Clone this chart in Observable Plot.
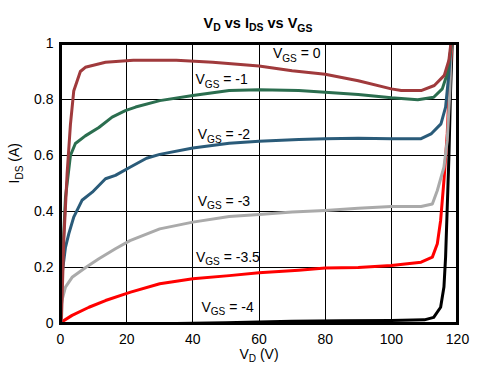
<!DOCTYPE html>
<html>
<head>
<meta charset="utf-8">
<script src="https://cdn.jsdelivr.net/npm/d3@7"></script>
<script src="https://cdn.jsdelivr.net/npm/@observablehq/plot@0.6"></script>
<style>
  html, body { margin: 0; padding: 0; background: #fff; }
  svg { display: block; }
</style>
</head>
<body>
<div id="chart"></div>
<script>
// ---- data ----
const vgsLabels = ["V_{GS} = 0", "V_{GS} = -1", "V_{GS} = -2", "V_{GS} = -3", "V_{GS} = -3.5", "V_{GS} = -4"];
const colors = ["#a03a3c", "#2b6e4f", "#2a5b79", "#aaaaaa", "#ff0000", "#000000"];

const vgs0 = [[0,0],[0.3,0.02],[1,0.30],[2,0.535],[3,0.71],[4,0.83],[6,0.90],[7.5,0.915],[13.6,0.933],[22,0.94],[35,0.94],[46,0.933],[60,0.92],[70,0.903],[80,0.89],[90,0.867],[100,0.838],[103,0.832],[109,0.832],[113,0.85],[116,0.886],[117.4,0.94],[118,1.0]];
const vgs1 = [[0,0],[0.5,0.2],[1.5,0.45],[3,0.6],[4.5,0.643],[7.5,0.67],[11.6,0.70],[15.6,0.737],[19.6,0.76],[22.7,0.773],[30,0.796],[40,0.814],[51,0.832],[60,0.835],[72,0.832],[80,0.826],[90,0.818],[100,0.806],[108,0.799],[112.8,0.808],[115.4,0.838],[116.9,0.892],[118,0.98],[118.2,1]];
const vgs2 = [[0,0],[0.3,0.16],[1.5,0.272],[2.5,0.32],[4,0.38],[6.5,0.44],[9.6,0.469],[13.6,0.517],[16.6,0.529],[21,0.558],[26,0.59],[30,0.604],[40,0.627],[51,0.644],[60,0.651],[72,0.657],[80,0.66],[90,0.662],[100,0.66],[109,0.66],[112,0.677],[115,0.713],[116.4,0.773],[117.4,0.892],[118,0.99],[118.1,1]];
const vgs3 = [[0,0],[0.3,0.07],[0.6,0.09],[1.5,0.13],[3.5,0.165],[7.6,0.2],[11.6,0.231],[16.6,0.267],[21,0.296],[30,0.338],[40,0.362],[51,0.382],[60,0.389],[70,0.398],[80,0.404],[90,0.412],[100,0.418],[109,0.418],[112.4,0.427],[113.9,0.475],[115.9,0.558],[116.9,0.654],[117.7,0.832],[118.1,1]];
const vgs35 = [[0,0],[0.3,0.005],[3.5,0.029],[8.6,0.058],[13.6,0.082],[19.6,0.106],[21.2,0.112],[30,0.142],[40,0.16],[51,0.171],[60,0.181],[72,0.19],[80,0.198],[90,0.2],[100,0.207],[109,0.219],[112.4,0.237],[113.9,0.285],[114.9,0.368],[115.9,0.51],[116.9,0.677],[117.7,0.892],[118.3,1]];
const vgs4 = [[35,0],[50,0.003],[60,0.005],[70,0.008],[85,0.01],[100,0.011],[110,0.013],[112.8,0.022],[114.9,0.058],[115.9,0.13],[116.4,0.237],[116.9,0.415],[117.4,0.594],[117.9,0.832],[118.4,1]];

const labelVD = [71.4, 48.7, 49.4, 49.4, 50.6, 50.5];
const labelIDS = [0.964, 0.871, 0.675, 0.437, 0.237, 0.058];

const xTicks = [0, 20, 40, 60, 80, 100, 120];
const yTicks = [0, 0.2, 0.4, 0.6, 0.8, 1];

const titleText = "V_{D} vs I_{DS} vs V_{GS}";
const xLabel = "V_{D} (V)";
const yLabel = "I_{DS} (A)";

// ---- build table ----
const seriesData = [vgs0, vgs1, vgs2, vgs3, vgs35, vgs4];
const rows = [];
seriesData.forEach((s, i) => s.forEach(([v, a]) => rows.push({series: vgsLabels[i], vd: v, ids: a})));
const labels = vgsLabels.map((t, i) => ({text: t, vd: labelVD[i], ids: labelIDS[i]}));

const drawOrder = [...vgsLabels].reverse(); // black first, brown last (on top)

const chart = Plot.plot({
  width: 486,
  height: 377,
  marginLeft: 60,
  marginRight: 29,
  marginTop: 43,
  marginBottom: 54,
  style: {fontFamily: "'Liberation Sans', Arial, sans-serif", fontSize: "13px", color: "black", background: "white"},
  x: {domain: [0, 120]},
  y: {domain: [0, 1]},
  color: {domain: vgsLabels, range: colors},
  marks: [
    Plot.gridX(xTicks, {stroke: "black", strokeOpacity: 1, strokeWidth: 1, shapeRendering: "crispEdges"}),
    Plot.gridY(yTicks, {stroke: "black", strokeOpacity: 1, strokeWidth: 1, shapeRendering: "crispEdges"}),
    ...drawOrder.map(name =>
      Plot.line(rows.filter(d => d.series === name), {
        x: "vd", y: "ids", stroke: "series", strokeWidth: 3, clip: true, curve: "linear"
      })
    ),
    Plot.text(labels, {x: "vd", y: "ids", text: "text", fontSize: 14, fill: "black"}),
    Plot.frame({stroke: "black", strokeWidth: 3, shapeRendering: "crispEdges"}),
    Plot.axisX(xTicks, {tickSize: 0, tickPadding: 11, tickFormat: d => String(d), label: null, fontSize: 14}),
    Plot.axisY(yTicks, {tickSize: 0, tickPadding: 7, tickFormat: d => String(d), label: null, fontSize: 14}),
    Plot.text([xLabel], {frameAnchor: "bottom", dy: 35, fontSize: 14, fill: "black"}),
    Plot.text([yLabel], {frameAnchor: "left", dx: -46, dy: 0, rotate: -90, fontSize: 14, fill: "black"}),
    Plot.text([titleText], {frameAnchor: "top", dy: -26, dx: -1, fontSize: 14.5, fontWeight: "bold", fill: "black"})
  ]
});

// convert "_{...}" markers into subscript tspans
d3.select(chart).selectAll("text").each(function () {
  const el = this;
  const t = el.textContent;
  if (!t.includes("_{")) return;
  while (el.firstChild) el.removeChild(el.firstChild);
  const re = /_\{([^}]*)\}/g;
  const ns = "http://www.w3.org/2000/svg";
  let last = 0, m;
  while ((m = re.exec(t)) !== null) {
    if (m.index > last) {
      const a = document.createElementNS(ns, "tspan");
      a.textContent = t.slice(last, m.index);
      if (last > 0) a.setAttribute("dy", "-0.25em");
      el.appendChild(a);
    }
    const s = document.createElementNS(ns, "tspan");
    s.setAttribute("font-size", "0.72em");
    s.setAttribute("dy", "0.35em");
    s.textContent = m[1];
    el.appendChild(s);
    last = re.lastIndex;
  }
  if (last < t.length) {
    const b = document.createElementNS(ns, "tspan");
    b.setAttribute("dy", "-0.252em");
    b.textContent = t.slice(last);
    el.appendChild(b);
  }
});

document.getElementById("chart").appendChild(chart);
</script>
</body>
</html>
